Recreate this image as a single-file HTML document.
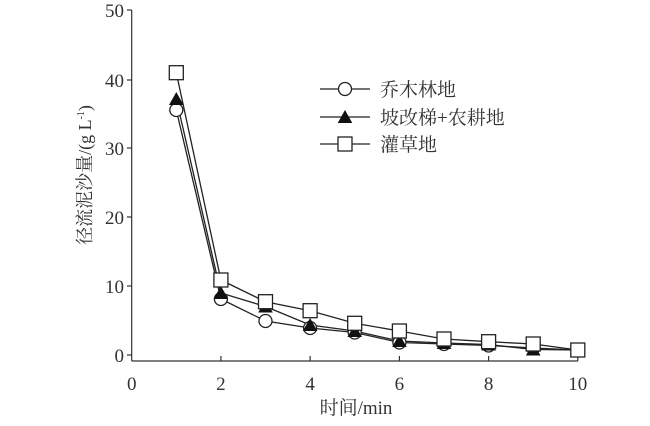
<!DOCTYPE html><html><head><meta charset="utf-8"><style>body{margin:0;background:#fff}svg text{font-family:"Liberation Serif","Noto Serif CJK SC",serif;fill:#333}</style></head><body>
<svg width="650" height="421" viewBox="0 0 650 421" xmlns="http://www.w3.org/2000/svg">
<g stroke="#333" stroke-width="1.2" fill="none">
<line x1="131.7" y1="10" x2="131.7" y2="361"/>
<line x1="131.7" y1="361" x2="578" y2="361"/>
<line x1="127" y1="10" x2="131.7" y2="10"/><line x1="127" y1="80" x2="131.7" y2="80"/><line x1="127" y1="148" x2="131.7" y2="148"/><line x1="127" y1="217" x2="131.7" y2="217"/><line x1="127" y1="286" x2="131.7" y2="286"/><line x1="127" y1="355" x2="131.7" y2="355"/>
<line x1="220.9" y1="356" x2="220.9" y2="361"/><line x1="310.1" y1="356" x2="310.1" y2="361"/><line x1="399.4" y1="356" x2="399.4" y2="361"/><line x1="488.6" y1="356" x2="488.6" y2="361"/><line x1="577.8" y1="356" x2="577.8" y2="361"/>
</g>
<g font-size="19" text-anchor="end">
<text x="124" y="17">50</text><text x="124" y="87">40</text><text x="124" y="155">30</text><text x="124" y="224">20</text><text x="124" y="293">10</text><text x="124" y="362">0</text>
</g>
<g font-size="19" text-anchor="middle">
<text x="131.7" y="390">0</text><text x="220.9" y="390">2</text><text x="310.1" y="390">4</text><text x="399.4" y="390">6</text><text x="488.6" y="390">8</text><text x="577.8" y="390">10</text>
<text x="356" y="414" font-size="19">时间/min</text>
<text transform="translate(91,175) rotate(-90)" font-size="18">径流泥沙量/(g L<tspan font-size="10" dy="-7">-1</tspan><tspan dy="7">)</tspan></text>
</g>
<g stroke="#222" stroke-width="1.3" fill="none">
<polyline points="176.3,110 220.9,299 265.5,321 310.1,328 354.7,332.5 399.4,342.5 444,344 488.6,345.5 533.2,348 577.8,350"/>
<polyline points="176.3,99 220.9,293 265.5,306.5 310.1,325 354.7,331 399.4,341 444,343 488.6,344.5 533.2,349.5 577.8,350"/>
<polyline points="176.3,72.7 220.9,280 265.5,301.7 310.1,310.7 354.7,323.3 399.4,331 444,339 488.6,341.7 533.2,344 577.8,350"/>
<line x1="320" y1="89" x2="370" y2="89"/><line x1="320" y1="117" x2="370" y2="117"/><line x1="320" y1="144" x2="370" y2="144"/>
</g>
<g stroke="#222" stroke-width="1.3" fill="#fff">
<circle cx="176.3" cy="110" r="6.5"/><circle cx="220.9" cy="299" r="6.5"/><circle cx="265.5" cy="321" r="6.5"/><circle cx="310.1" cy="328" r="6.5"/><circle cx="354.7" cy="332.5" r="6.5"/><circle cx="399.4" cy="342.5" r="6.5"/><circle cx="444" cy="344" r="6.5"/><circle cx="488.6" cy="345.5" r="6.5"/><circle cx="533.2" cy="348" r="6.5"/>
<circle cx="345" cy="89" r="6.5"/>
</g>
<g fill="#111">
<polygon points="176.3,92 169,105 183.6,105"/><polygon points="220.9,286 213.6,299 228.2,299"/><polygon points="265.5,299.5 258.2,312.5 272.8,312.5"/><polygon points="310.1,318 302.8,331 317.4,331"/><polygon points="354.7,324 347.4,337 362,337"/><polygon points="399.4,334 392.1,347 406.7,347"/><polygon points="444,336 436.7,349 451.3,349"/><polygon points="488.6,337.5 481.3,350.5 495.9,350.5"/><polygon points="533.2,342.5 525.9,355.5 540.5,355.5"/>
<polygon points="345,110 337.7,123 352.3,123"/>
</g>
<g stroke="#222" stroke-width="1.3" fill="#fff">
<rect x="169.3" y="65.7" width="14" height="14"/><rect x="213.9" y="273" width="14" height="14"/><rect x="258.5" y="294.7" width="14" height="14"/><rect x="303.1" y="303.7" width="14" height="14"/><rect x="347.7" y="316.3" width="14" height="14"/><rect x="392.4" y="324" width="14" height="14"/><rect x="437" y="332" width="14" height="14"/><rect x="481.6" y="334.7" width="14" height="14"/><rect x="526.2" y="337" width="14" height="14"/><rect x="570.8" y="343" width="14" height="14"/>
<rect x="338" y="137" width="14" height="14"/>
</g>
<g font-size="19">
<text x="380" y="96">乔木林地</text><text x="380" y="124">坡改梯+农耕地</text><text x="380" y="151">灌草地</text>
</g>
</svg></body></html>
